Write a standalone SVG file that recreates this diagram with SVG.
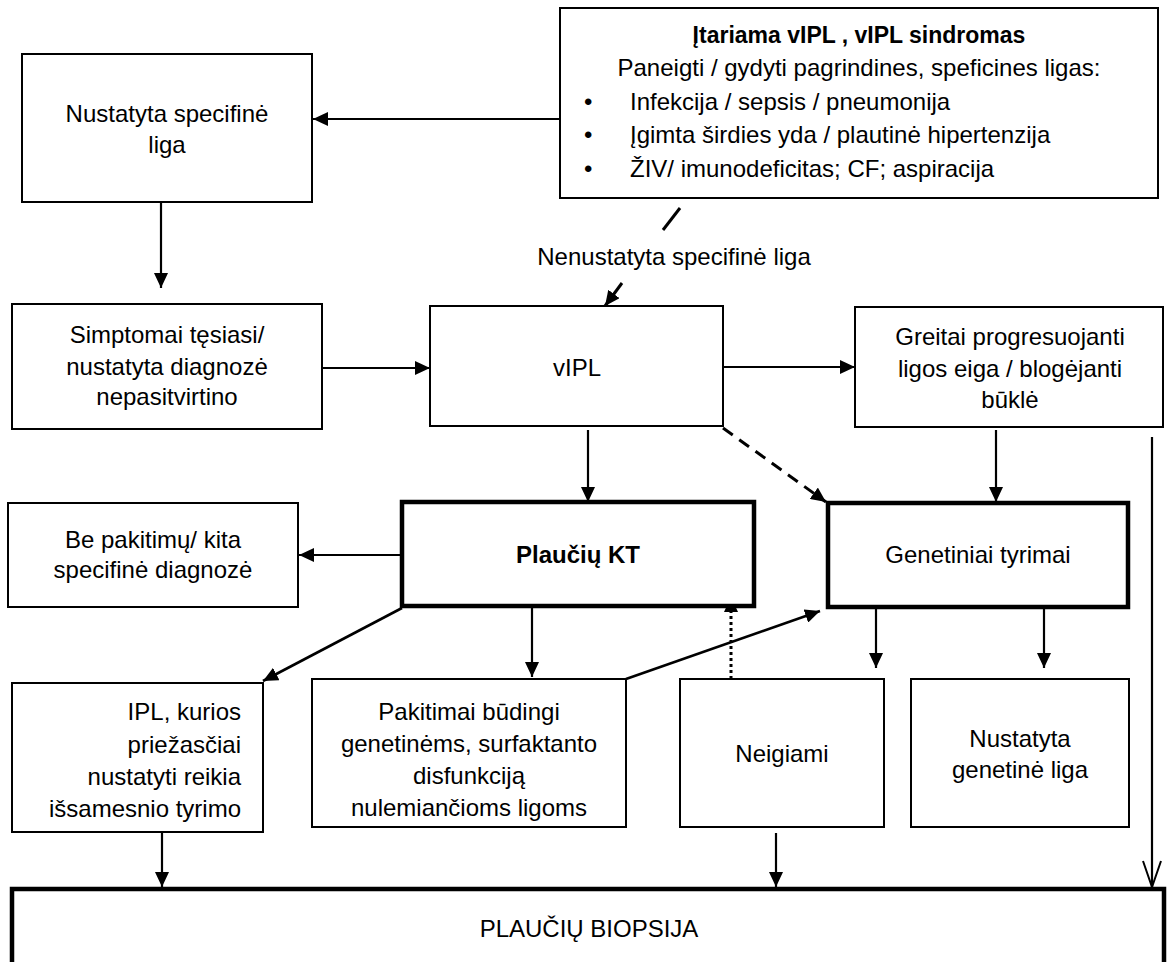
<svg xmlns="http://www.w3.org/2000/svg" width="1168" height="962" viewBox="0 0 1168 962">
<style>
.box{fill:#fff;stroke:#000;stroke-width:2}
.thick{fill:#fff;stroke:#000;stroke-width:4.5}
text{font-family:"Liberation Sans",Arial,sans-serif;font-size:24px;fill:#000}
.c{text-anchor:middle}
.e{text-anchor:end}
.b{font-weight:bold}
.ln{stroke:#000;stroke-width:2.2;fill:none}
</style>
<defs>
<marker id="ah" markerUnits="userSpaceOnUse" markerWidth="16" markerHeight="14" refX="15" refY="7" orient="auto">
<path d="M0,0 L15,7 L0,14 Z" fill="#000"/>
</marker>
<marker id="open" markerUnits="userSpaceOnUse" markerWidth="30" markerHeight="20" refX="27" refY="10" orient="auto">
<path d="M1,1 L27,10 L1,19" fill="none" stroke="#000" stroke-width="2"/>
</marker>
</defs>
<rect width="1168" height="962" fill="#fff"/>

<g id="connectors">
<line class="ln" x1="560" y1="119" x2="313" y2="119" marker-end="url(#ah)"/>
<line class="ln" x1="161" y1="202" x2="161" y2="288" marker-end="url(#ah)"/>
<line class="ln" x1="680" y1="208" x2="663" y2="230" style="stroke-width:3"/>
<line class="ln" x1="622" y1="283" x2="605" y2="306" style="stroke-width:3" marker-end="url(#ah)"/>
<line class="ln" x1="322" y1="368" x2="430" y2="368" marker-end="url(#ah)"/>
<line class="ln" x1="723" y1="367" x2="855" y2="367" marker-end="url(#ah)"/>
<line class="ln" x1="588" y1="430" x2="588" y2="502" marker-end="url(#ah)"/>
<line class="ln" x1="723" y1="428" x2="826" y2="502" style="stroke-width:3;stroke-dasharray:12 8" marker-end="url(#ah)"/>
<line class="ln" x1="996" y1="430" x2="996" y2="502" marker-end="url(#ah)"/>
<line class="ln" x1="1152" y1="437" x2="1152" y2="887" marker-end="url(#open)"/>
<line class="ln" x1="402" y1="555" x2="299" y2="555" marker-end="url(#ah)"/>
<line class="ln" x1="402" y1="608" x2="263" y2="681" style="stroke-width:2.6" marker-end="url(#ah)"/>
<line class="ln" x1="532" y1="608" x2="532" y2="677" marker-end="url(#ah)"/>
<line class="ln" x1="626" y1="679" x2="820" y2="611" style="stroke-width:2.6" marker-end="url(#ah)"/>
<line class="ln" x1="731" y1="679" x2="731" y2="597" style="stroke-width:3;stroke-dasharray:3 3" marker-end="url(#ah)"/>
<line class="ln" x1="876" y1="598" x2="876" y2="668" marker-end="url(#ah)"/>
<line class="ln" x1="1044" y1="598" x2="1044" y2="668" marker-end="url(#ah)"/>
<line class="ln" x1="162" y1="831" x2="162" y2="887" marker-end="url(#ah)"/>
<line class="ln" x1="776" y1="833" x2="776" y2="887" marker-end="url(#ah)"/>
</g>

<g id="label-nenustatyta">
<text class="c" x="674" y="265">Nenustatyta specifinė liga</text>
</g>

<g id="n-nustatyta">
<rect class="box" x="22" y="54" width="290" height="148"/>
<text class="c" x="167" y="122">Nustatyta specifinė</text>
<text class="c" x="167" y="153">liga</text>
</g>

<g id="n-itariama">
<rect class="box" x="560" y="8" width="598" height="190"/>
<text class="c b" x="859" y="43" style="font-size:23px">Įtariama vIPL , vIPL sindromas</text>
<text class="c" x="859" y="76">Paneigti / gydyti pagrindines, speficines ligas:</text>
<text x="584" y="110">•</text>
<text x="630" y="110">Infekcija / sepsis / pneumonija</text>
<text x="584" y="143">•</text>
<text x="630" y="143">Įgimta širdies yda / plautinė hipertenzija</text>
<text x="584" y="177">•</text>
<text x="630" y="177">ŽIV/ imunodeficitas; CF; aspiracija</text>
</g>

<g id="n-simptomai">
<rect class="box" x="12" y="304" width="310" height="125"/>
<text class="c" x="167" y="343">Simptomai tęsiasi/</text>
<text class="c" x="167" y="375">nustatyta diagnozė</text>
<text class="c" x="167" y="405">nepasitvirtino</text>
</g>

<g id="n-vipl">
<rect class="box" x="430" y="306" width="293" height="120"/>
<text class="c" x="577" y="376">vIPL</text>
</g>

<g id="n-greitai">
<rect class="box" x="855" y="307" width="308" height="120"/>
<text class="c" x="1010" y="345">Greitai progresuojanti</text>
<text class="c" x="1010" y="377">ligos eiga / blogėjanti</text>
<text class="c" x="1010" y="408">būklė</text>
</g>

<g id="n-bepakitimu">
<rect class="box" x="8" y="503" width="290" height="104"/>
<text class="c" x="153" y="548">Be pakitimų/ kita</text>
<text class="c" x="153" y="578">specifinė diagnozė</text>
</g>

<g id="n-kt">
<rect class="thick" x="402" y="502" width="352" height="104"/>
<text class="c b" x="578" y="563">Plaučių KT</text>
</g>

<g id="n-genetiniai">
<rect class="thick" x="828" y="503" width="300" height="104"/>
<text class="c" x="978" y="563">Genetiniai tyrimai</text>
</g>

<g id="n-ipl">
<rect class="box" x="12" y="683" width="251" height="149"/>
<text class="e" x="241" y="720">IPL, kurios</text>
<text class="e" x="241" y="753">priežasčiai</text>
<text class="e" x="241" y="785">nustatyti reikia</text>
<text class="e" x="241" y="817">išsamesnio tyrimo</text>
</g>

<g id="n-pakitimai">
<rect class="box" x="312" y="679" width="314" height="148"/>
<text class="c" x="469" y="720">Pakitimai būdingi</text>
<text class="c" x="469" y="752">genetinėms, surfaktanto</text>
<text class="c" x="469" y="784">disfunkciją</text>
<text class="c" x="469" y="816">nulemiančioms ligoms</text>
</g>

<g id="n-neigiami">
<rect class="box" x="680" y="679" width="204" height="148"/>
<text class="c" x="782" y="762">Neigiami</text>
</g>

<g id="n-genetine">
<rect class="box" x="911" y="679" width="218" height="148"/>
<text class="c" x="1020" y="747">Nustatyta</text>
<text class="c" x="1020" y="778">genetinė liga</text>
</g>

<g id="n-biopsija">
<rect class="thick" x="12" y="889" width="1152" height="90"/>
<text class="c" x="589" y="937">PLAUČIŲ BIOPSIJA</text>
</g>
</svg>
